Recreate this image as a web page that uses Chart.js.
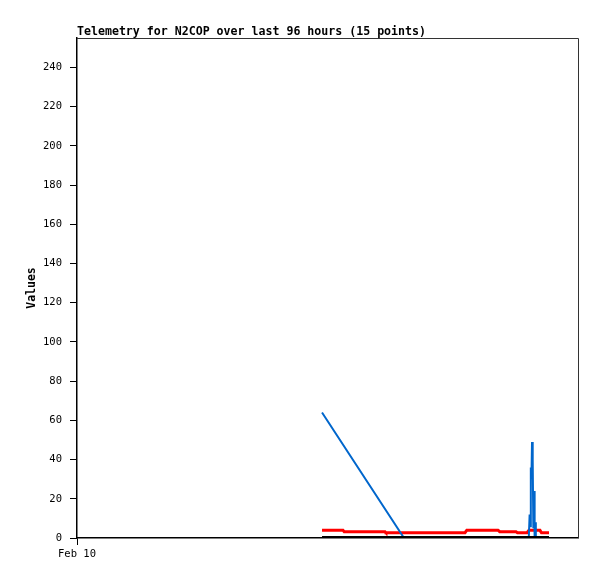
<!DOCTYPE html>
<html>
<head>
<meta charset="utf-8">
<title>Telemetry for N2COP</title>
<script src="https://cdn.jsdelivr.net/npm/chart.js@4/dist/chart.umd.min.js"></script>
<style>
  body { margin: 0; background: #fff; }
  canvas { display: block; }
</style>
</head>
<body>
<canvas id="telemetry-chart" width="597" height="579"></canvas>
<script>
// Hours since the start of the 96 hour window
const blueHours = [46.95, 62.66, 86.57, 86.73, 86.84, 86.96, 87.07, 87.19, 87.32, 87.44, 87.57, 87.69, 87.80, 87.92, 90.45];
const blueValues = [64, 0, 0, 12, 6, 36, 30, 49, 40, 5, 24, 0, 8, 0, 0];

const redHours = [46.95, 50.97, 51.2, 59.02, 59.2, 74.35, 74.7, 80.67, 81.0, 84.12, 84.4, 86.23, 86.6, 88.72, 89.0, 90.45];
const redValues = [3.9, 3.9, 3.2, 3.2, 2.7, 2.7, 4.0, 4.0, 3.2, 3.2, 2.7, 2.7, 3.9, 3.9, 2.7, 2.7];

const blackHours = [46.95, 90.45];
const blackValues = [0, 0];

const xTickLabels = ['Feb 10'];
const titleText = 'Telemetry for N2COP over last 96 hours (15 points)';

const canvas = document.getElementById('telemetry-chart');

function toPoints(hours, values) {
    return hours.map((h, i) => ({ x: h, y: values[i] }));
}

// Title left-aligned over the plot, plus the frame round the plot area
const framePlugin = {
    id: 'frame',
    afterDraw(chart) {
        const ctx = chart.ctx;
        const a = chart.chartArea;
        ctx.save();
        ctx.strokeStyle = '#333';
        ctx.lineWidth = 1;
        ctx.beginPath();
        ctx.moveTo(a.left, a.top + 0.5);
        ctx.lineTo(a.right + 0.5, a.top + 0.5);
        ctx.lineTo(a.right + 0.5, a.bottom);
        ctx.stroke();
        ctx.fillStyle = '#000';
        ctx.font = 'bold 11.6px "DejaVu Sans Mono"';
        ctx.textBaseline = 'alphabetic';
        ctx.textAlign = 'left';
        ctx.fillText(titleText, a.left, a.top - 3);
        ctx.restore();
    }
};

const tickFont = { family: '"DejaVu Sans Mono"', size: 10.5 };

new Chart(canvas, {
    type: 'line',
    data: {
        datasets: [
            {
                label: 'black',
                data: toPoints(blackHours, blackValues),
                borderColor: '#000000',
                borderWidth: 4,
                order: 0
            },
            {
                label: 'blue',
                data: toPoints(blueHours, blueValues),
                borderColor: '#0066cc',
                borderWidth: 2,
                order: 1
            },
            {
                label: 'red',
                data: toPoints(redHours, redValues),
                borderColor: '#ff0000',
                borderWidth: 3,
                order: 2
            }
        ]
    },
    options: {
        responsive: false,
        animation: false,
        layout: { padding: { top: 38, right: 19, left: 0, bottom: 0 } },
        elements: {
            point: { radius: 0 },
            line: { tension: 0, borderCapStyle: 'butt' }
        },
        plugins: {
            legend: { display: false },
            tooltip: { enabled: false }
        },
        scales: {
            x: {
                type: 'linear',
                min: 0,
                max: 96,
                afterBuildTicks: (scale) => { scale.ticks = [{ value: 0 }]; },
                afterFit: (scale) => { scale.height = 41; },
                ticks: {
                    color: '#000',
                    font: tickFont,
                    padding: 3,
                    maxRotation: 0,
                    callback: (v, i) => xTickLabels[i]
                },
                grid: { drawOnChartArea: false, drawTicks: true, tickLength: 7, color: '#000' },
                border: { color: '#000', width: 1.5 }
            },
            y: {
                min: 0,
                max: 255,
                afterBuildTicks: (scale) => {
                    scale.ticks = scale.ticks.filter(t => t.value % 20 === 0);
                },
                afterFit: (scale) => { scale.width = 77; },
                ticks: {
                    stepSize: 20,
                    color: '#000',
                    font: tickFont,
                    padding: 8
                },
                grid: { drawOnChartArea: false, drawTicks: true, tickLength: 7, color: '#000' },
                border: { color: '#000', width: 1.5 },
                title: {
                    display: true,
                    text: 'Values',
                    color: '#000',
                    font: { family: '"DejaVu Sans Mono"', size: 11.5, weight: 'bold' },
                    padding: { top: 25, bottom: 0 }
                }
            }
        }
    },
    plugins: [framePlugin]
});
</script>
</body>
</html>
